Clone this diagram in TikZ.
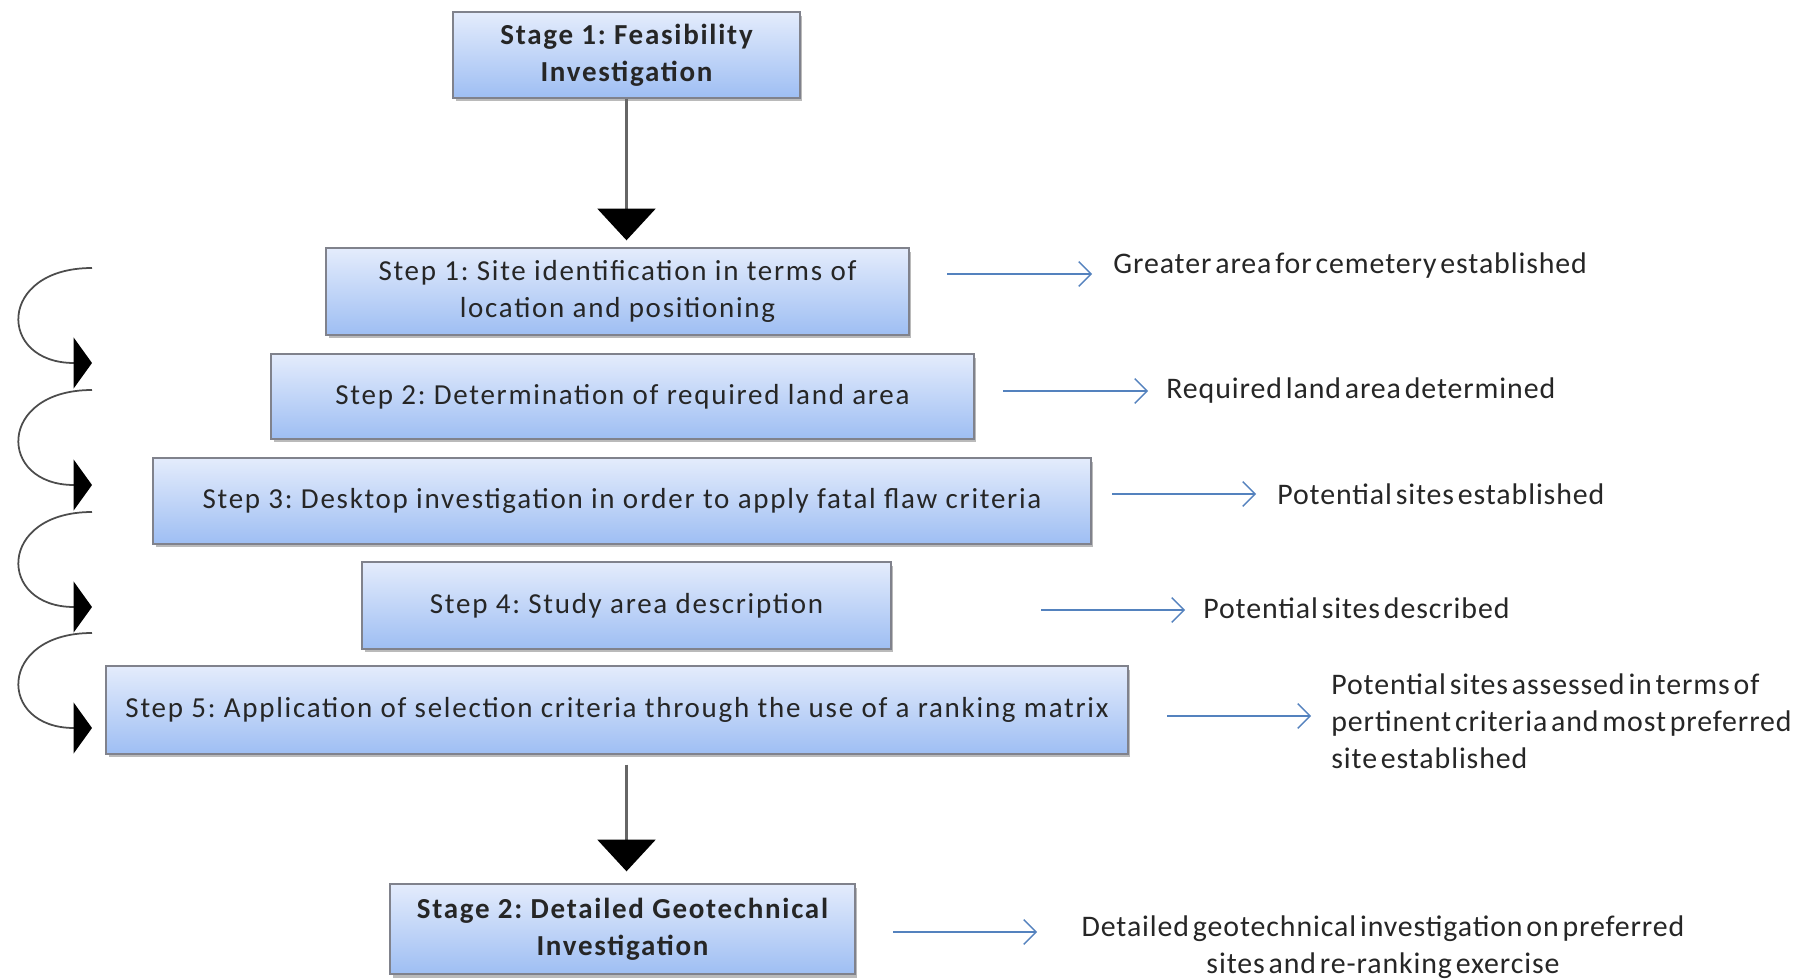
\documentclass[tikz,border=0pt]{standalone}
\usepackage{fontspec}
\setmainfont{Carlito}
\newfontfamily\boxfont[LetterSpace=6]{Carlito}
\newfontfamily\labelfont[LetterSpace=3,WordSpace=0.5]{Carlito}
\usetikzlibrary{arrows.meta,shadows}
\frenchspacing

\definecolor{boxtop}{RGB}{228,236,252}
\definecolor{boxbot}{RGB}{158,190,243}
\definecolor{boxline}{RGB}{128,130,140}
\definecolor{outblue}{RGB}{84,130,190}

\begin{document}
\begin{tikzpicture}[x=0.02cm,y=-0.02cm,inner sep=0pt,
  stepbox/.style={draw=boxline,line width=0.8pt,top color=boxtop,bottom color=boxbot,
    drop shadow={shadow xshift=0.05cm,shadow yshift=-0.07cm,fill=black!45,opacity=0.6},
    align=center,text=black!85,font=\boxfont\fontsize{16.5}{21}\selectfont},
  stagebox/.style={stepbox,font=\boxfont\fontsize{16.5}{21}\selectfont\bfseries},
  result/.style={anchor=west,align=left,text=black!85,font=\labelfont\fontsize{17}{21}\selectfont},
  bigarrow/.style={-{Triangle[length=18pt,width=33pt,color=black]},draw=black!60,line width=1.2pt},
  looparrow/.style={-{Triangle[length=10.5pt,width=29pt,color=black]},draw=black!70,line width=1pt},
  outarrow/.style={-{Straight Barb[length=7pt,width=14pt]},draw=outblue,line width=0.8pt}]
\useasboundingbox (0,0) rectangle (1807,979);

\node[stagebox,minimum width=6.94cm,minimum height=1.72cm] (st1) at (626.5,55) {Stage 1: Feasibility\\Investigation};
\node[stepbox,minimum width=11.66cm,minimum height=1.74cm] (s1) at (617.5,291.5) {Step 1: Site identification in terms of\\location and positioning};
\node[stepbox,minimum width=14.06cm,minimum height=1.70cm] (s2) at (622.5,396.5) {Step 2: Determination of required land area};
\node[stepbox,minimum width=18.76cm,minimum height=1.72cm] (s3) at (622,501) {Step 3: Desktop investigation in order to apply fatal flaw criteria};
\node[stepbox,minimum width=10.58cm,minimum height=1.74cm] (s4) at (626.5,605.5) {Step 4: Study area description};
\node[stepbox,minimum width=20.44cm,minimum height=1.76cm] (s5) at (617,710) {Step 5: Application of selection criteria through the use of a ranking matrix};
\node[stagebox,minimum width=9.30cm,minimum height=1.80cm] (st2) at (622.5,929) {Stage 2: Detailed Geotechnical\\Investigation};
%
\node[result] (r1) at (1113,266) {Greater area for cemetery established};
\node[result] (r2) at (1166,391) {Required land area determined};
\node[result] (r3) at (1277,494) {Potential sites established};
\node[result] (r4) at (1203,608) {Potential sites described};
\node[result] (r5) at (1331,721) {Potential sites assessed in terms of\\pertinent criteria and most preferred\\site established};
\node[result,anchor=center,align=center] (r6) at (1383,947) {Detailed geotechnical investigation on preferred\\sites and re-ranking exercise};
%
\coordinate (a1) at (947,274);
\coordinate (a2) at (1003,391);
\coordinate (a3) at (1112,494);
\coordinate (a4) at (1041,610);
\coordinate (a5) at (1167,716);
\coordinate (a6) at (893,932);
%
\draw[bigarrow,shorten >=0.14cm] (st1) -- (st1 |- s1.north);
\draw[bigarrow,shorten <=0.2cm,shorten >=0.24cm] (st1 |- s5.south) -- (st1 |- st2.north);
%
\draw[outarrow,shorten >=0.42cm] (a1) -- (a1 -| r1.west);
\draw[outarrow,shorten >=0.36cm] (a2) -- (a2 -| r2.west);
\draw[outarrow,shorten >=0.42cm] (a3) -- (a3 -| r3.west);
\draw[outarrow,shorten >=0.36cm] (a4) -- (a4 -| r4.west);
\draw[outarrow,shorten >=0.40cm] (a5) -- (a5 -| r5.west);
\draw[outarrow] (a6) -- (a6 -| 1037,0);
%
\foreach \ya/\yb [count=\i] in {268/363,390/485,512/607,633/728}{
  \coordinate (ls\i) at (92,\ya);
  \coordinate (le\i) at (92,\yb);
  \draw[looparrow] (ls\i) .. controls +(-95,0) and +(-95,0) .. (le\i);
}
\end{tikzpicture}
\end{document}
